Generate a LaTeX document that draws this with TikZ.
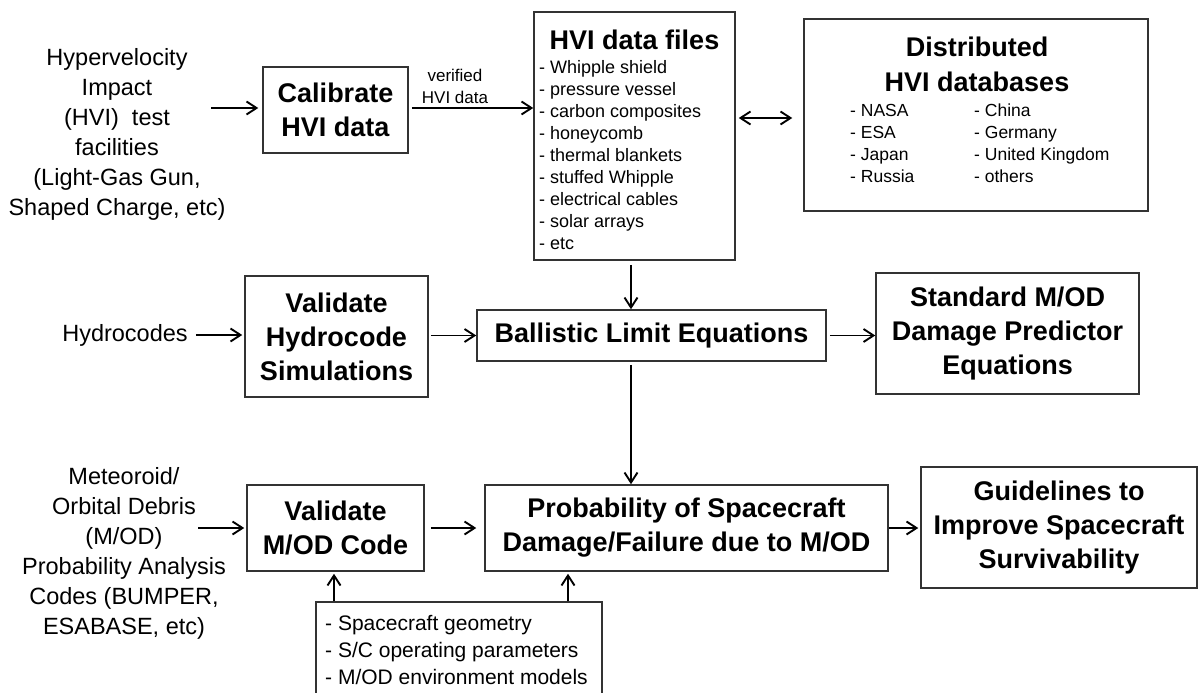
\documentclass[tikz,border=0pt]{standalone}
\usepackage{fontspec}
\setmainfont{Liberation Sans}
\usetikzlibrary{arrows.meta,calc}
\newcommand\setfs[2]{\fontsize{#1pt}{#2pt}\selectfont}
\tikzset{
  box/.style={draw=black!80, line width=1.5pt, inner sep=0pt, align=center,
              font=\setfs{27}{34}\bfseries},
  frame/.style={draw=black!80, line width=1.5pt, inner sep=0pt},
  arr/.style={-{Straight Barb[length=10pt,width=13pt]}, line width=1.9pt},
  darr/.style={{Straight Barb[length=10pt,width=13pt]}-{Straight Barb[length=10pt,width=13pt]}, line width=1.9pt},
  freetxt/.style={inner sep=0pt, align=center, font=\setfs{23.5}{30}},
  smalltxt/.style={inner sep=0pt, align=center, font=\setfs{17}{22}},
  title/.style={inner sep=0pt, align=center, font=\setfs{27}{35}\bfseries},
  listitem/.style={inner sep=0pt, anchor=base west, font=\setfs{18}{22}},
  distitem/.style={inner sep=0pt, anchor=base west, font=\setfs{17.5}{22}},
  paritem/.style={inner sep=0pt, anchor=base west, font=\setfs{21}{27}},
}
\begin{document}
\begin{tikzpicture}[x=1pt,y=-1pt]
\useasboundingbox (0,0) rectangle (1199,693);

% boxes
\node[box, minimum width=145pt, minimum height=86pt] (calib) at (335.5,110) {Calibrate\\HVI data};
\node[frame, minimum width=201pt, minimum height=248pt] (files) at (634.5,136) {};
\node[frame, minimum width=344pt, minimum height=192pt] (dist) at (976,115) {};
\node[box, minimum width=183pt, minimum height=121pt] (hydro) at (336.5,336.5) {Validate\\Hydrocode\\Simulations};
\node[box, minimum width=349pt, minimum height=51pt] (ball) at (651.5,335.5) {Ballistic Limit Equations};
\node[box, minimum width=263pt, minimum height=121pt] (std) at (1007.5,333.5) {Standard M/OD\\Damage Predictor\\Equations};
\node[box, minimum width=177pt, minimum height=86pt] (mod) at (335.5,528) {Validate\\M/OD Code};
\node[box, minimum width=403pt, minimum height=86pt] (prob) at (686.5,528) {Probability of Spacecraft\\Damage/Failure due to M/OD};
\node[box, minimum width=276pt, minimum height=121pt] (guide) at (1059,527.5) {Guidelines to\\Improve Spacecraft\\Survivability};
\node[frame, minimum width=286pt, minimum height=96pt] (params) at (459,650) {};

% titles and lists
\node[title] (filesT) at (634.5,40) {HVI data files};
\foreach \t [count=\i] in {Whipple shield, pressure vessel, carbon composites, honeycomb,
  thermal blankets, stuffed Whipple, electrical cables, solar arrays, etc}
  \node[listitem] (fi\i) at (539,{51.3+22*\i}) {- \t};

\node[title] (distT) at (977,64.5) {Distributed\\HVI databases};
\foreach \t [count=\i] in {NASA, ESA, Japan, Russia}
  \node[distitem] (dl\i) at (850,{93.8+22.2*\i}) {- \t};
\foreach \t [count=\i] in {China, Germany, United Kingdom, others}
  \node[distitem] (dr\i) at (974,{93.8+22.2*\i}) {- \t};

\foreach \t [count=\i] in {Spacecraft geometry, S/C operating parameters, M/OD environment models}
  \node[paritem] (pi\i) at (325,{603.5+27*\i}) {- \t};

% free texts
\node[freetxt] (hv) at (117,134) {Hypervelocity\\Impact\\(HVI)\ \ test\\facilities\\(Light-Gas Gun,\\Shaped Charge, etc)};
\node[freetxt] (hydl) at (125,335) {Hydrocodes};
\node[freetxt] (met) at (124,553) {Meteoroid/\\Orbital Debris\\(M/OD)\\Probability Analysis\\Codes (BUMPER,\\ESABASE, etc)};
\node[smalltxt] (ver) at (455,86) {verified\\HVI data};

% connectors
\coordinate (hvout) at (211,108);
\draw[arr, shorten >=4pt] (hvout) -- (calib.west |- hvout);
\draw[arr, shorten <=3pt] (calib.east |- hvout) -- (files.west |- hvout);
\coordinate (dy) at (0,118);
\draw[darr, shorten <=3pt, shorten >=11pt] (files.east |- dy) -- (dist.west |- dy);
\coordinate (vx) at (631,0);
\draw[arr, shorten <=4pt] (files.south -| vx) -- (ball.north -| vx);
\draw[arr, shorten <=8pt, shorten >=2pt] (hydl.east) -- (hydro.west |- hydl.east);
\draw[arr, shorten <=2pt] (hydro.east |- ball.west) -- (ball.west);
\draw[arr, shorten <=3pt] (ball.east) -- (std.west |- ball.east);
\draw[arr, shorten <=3pt] (ball.south -| vx) -- (prob.north -| vx);
\coordinate (metout) at (198,528);
\draw[arr, shorten >=2pt] (metout) -- (mod.west |- metout);
\draw[arr, shorten <=6pt, shorten >=8pt] (mod.east) -- (prob.west);
\draw[arr, shorten >=2pt] (prob.east) -- (guide.west |- prob.east);
\coordinate (px1) at (334,0);
\coordinate (px2) at (568,0);
\draw[arr, shorten >=2pt] (params.north -| px1) -- (mod.south -| px1);
\draw[arr, shorten >=2pt] (params.north -| px2) -- (prob.south -| px2);
\end{tikzpicture}
\end{document}
